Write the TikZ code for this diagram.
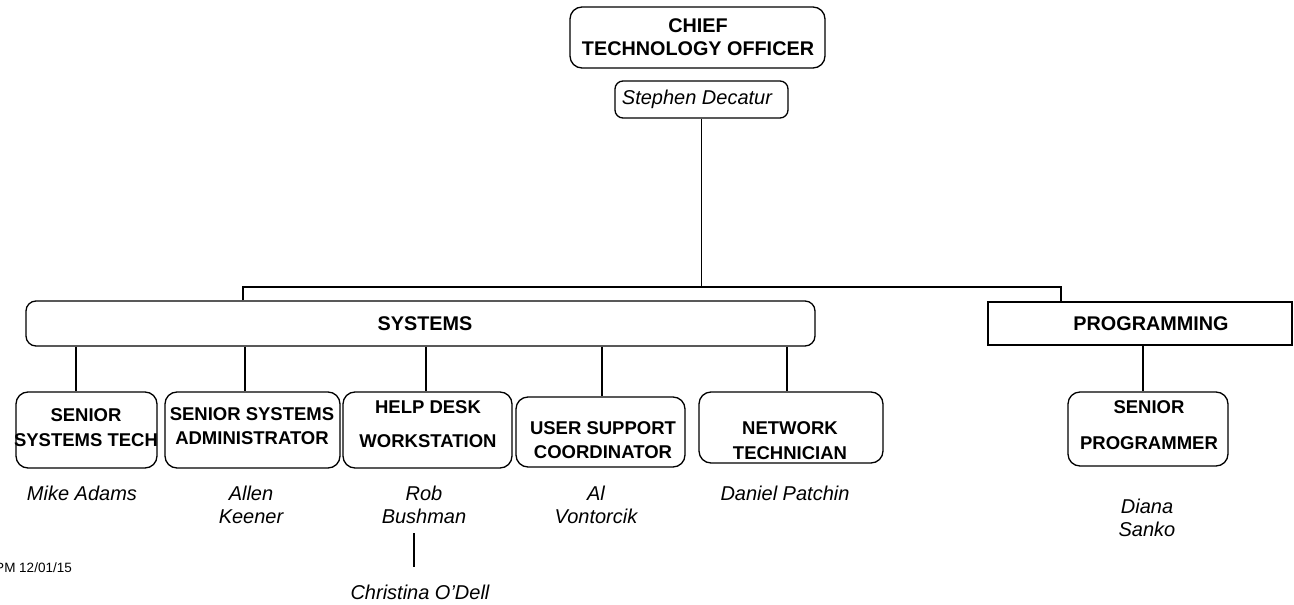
\documentclass[tikz,border=0pt]{standalone}
\usepackage{fontspec}
\setmainfont{Liberation Sans}
\newcommand{\drawboxes}[2] {
    \foreach \nm/\xa/\ya/\xb/\yb in #2 {
      \node[#1, minimum width=(\xb-\xa)*1pt, minimum height=(\yb-\ya)*1pt]
        (\nm) at ({(\xa+\xb)/2},{(\ya+\yb)/2}) {};
    }
}
\newcommand{\drawtexts}[2] {
    \foreach \nm/\pos/\txt in #2 {
      \node[#1] (\nm) at \pos {\txt};
    }
}
\newcommand{\drawdrops}[2] {
    \foreach \b/\x in #2 {
      \draw[link] (\x,0 |- #1.south) -- (\x,0 |- \b.north); % drop from the unit to the post
    }
}

\begin{document}
\begin{tikzpicture}[x=1pt, y=-1pt,
    box/.style={draw, line width=1.3pt, inner sep=0pt, rounded corners=12pt},
    namebox/.style={box, rounded corners=8pt},
    unitbox/.style={box, rounded corners=10pt},
    flatbox/.style={draw, line width=1.3pt, inner sep=0pt},
    title/.style={font=\fontsize{18.5}{23}\selectfont\bfseries, align=center, inner sep=0pt},
    bigtitle/.style={title, font=\fontsize{19.8}{23}\selectfont\bfseries},
    person/.style={font=\fontsize{20}{23}\selectfont\itshape, align=center, inner sep=0pt},
    link/.style={line width=1.3pt}]
    \useasboundingbox (0,0) rectangle (1294,605);
    % boxes
    \drawboxes{box}{{cto/570/7/825/68, sst/16/392/157/468, ssa/165/392/340/468,
      hdw/343/392/512/468, usc/516/397/685/467, nt/699/392/883/463, sp/1068/392/1228/466}}
    \drawboxes{namebox}{{stephen/615/81/788/118}}
    \drawboxes{unitbox}{{systems/26/301/815/346}}
    \drawboxes{flatbox}{{programming/988/302/1292/345}}
    % titles
    \drawtexts{bigtitle}{{ctotxt/{(698,37.5)}/{CHIEF\\TECHNOLOGY OFFICER},
      systxt/{(425,324)}/{SYSTEMS}, progtxt/{(1151,324)}/{PROGRAMMING}}}
    \drawtexts{title}{{ssttxt/{(86,427.5)}/{SENIOR\\[2pt]SYSTEMS TECH},
      ssatxt/{(252,426)}/{SENIOR SYSTEMS\\[1pt]ADMINISTRATOR},
      hdwtxt/{(428,424)}/{HELP DESK\\[11pt]WORKSTATION},
      usctxt/{(603,440)}/{USER SUPPORT\\[1pt]COORDINATOR},
      nttxt/{(790,440.5)}/{NETWORK\\[2pt]TECHNICIAN},
      sptxt/{(1149,425)}/{SENIOR\\[13pt]PROGRAMMER}}}
    % people
    \drawtexts{person}{{stephentxt/{(697,99.5)}/{Stephen Decatur},
      mike/{(82,493)}/{Mike Adams}, allen/{(251,504.5)}/{Allen\\Keener},
      rob/{(424,504.5)}/{Rob\\Bushman}, christina/{(420,592)}/{Christina O'Dell},
      al/{(596,504.5)}/{Al\\Vontorcik}, daniel/{(785,493)}/{Daniel Patchin},
      diana/{(1147,517.5)}/{Diana\\Sanko}}}
    \node[font=\fontsize{13.5}{15}\selectfont, inner sep=0pt, anchor=east] (date) at (72,568) {PM 12/01/15};
    % links
    \coordinate (sysdrop) at (243,287);
    \coordinate (progdrop) at (1061,287);
    \draw[link] (stephen.south) -- (stephen.south |- sysdrop);
    \draw[link] (sysdrop |- systems.north) -- (sysdrop) -- (progdrop) -- (progdrop |- programming.north);
    \drawdrops{systems}{{sst/76, ssa/245, hdw/426, usc/602, nt/787}}
    \drawdrops{programming}{{sp/1143}}
    \draw[link] ([shift={(-10,9.5)}]rob.south) -- ([shift={(-6,-17)}]christina.north);
\end{tikzpicture}
\end{document}
